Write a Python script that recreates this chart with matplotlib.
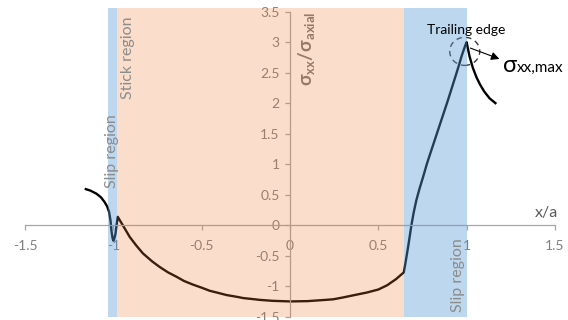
import matplotlib
matplotlib.use("Agg")
import matplotlib.pyplot as plt
from matplotlib.patches import Ellipse
import numpy as np

plt.rcParams['font.family'] = ['Lato', 'DejaVu Sans']
plt.rcParams['mathtext.default'] = 'regular'

# stress curve
lead_x = [-1.162, -1.13, -1.096, -1.07, -1.049, -1.035, -1.024, -1.016, -1.011,
          -1.005, -1.0, -0.995, -0.988, -0.982, -0.975]
lead_y = [0.60, 0.57, 0.52, 0.46, 0.38, 0.31, 0.22, 0.08, -0.08,
          -0.20, -0.25, -0.22, -0.14, 0.0, 0.14]

stick_x = [-0.95, -0.907, -0.87, -0.832, -0.78, -0.738, -0.69, -0.643, -0.6, -0.549,
           -0.5, -0.455, -0.4, -0.36, -0.3, -0.265, -0.2, -0.17, -0.1, 0.0,
           0.1, 0.2, 0.245, 0.3, 0.35, 0.4, 0.434, 0.5, 0.55, 0.6, 0.644]
stick_y = [0.02, -0.19, -0.33, -0.46, -0.59, -0.68, -0.77, -0.84, -0.91, -0.97,
           -1.02, -1.07, -1.11, -1.14, -1.17, -1.19, -1.21, -1.22, -1.235, -1.245,
           -1.24, -1.22, -1.21, -1.18, -1.15, -1.12, -1.10, -1.05, -0.98, -0.88, -0.77]

slip_x = [0.652, 0.659, 0.667, 0.674, 0.687, 0.70, 0.715, 0.733, 0.753, 0.775,
          0.80, 0.823, 0.847, 0.87, 0.894, 0.918, 0.942, 0.957, 0.97, 0.984, 0.994, 1.0]
slip_y = [-0.64, -0.52, -0.38, -0.25, 0.0, 0.21, 0.41, 0.60, 0.79, 1.01,
          1.23, 1.43, 1.64, 1.84, 2.05, 2.27, 2.49, 2.63, 2.76, 2.88, 2.96, 3.0]

trail_x = [1.008, 1.017, 1.035, 1.055, 1.075, 1.10, 1.13, 1.168]
trail_y = [2.88, 2.76, 2.58, 2.43, 2.31, 2.19, 2.08, 1.99]

# region limits in x/a
slip_left = (-1.03, -0.977)
stick = (-0.977, 0.644)
slip_right = (0.644, 1.004)

xticks = [-1.5, -1, -0.5, 0, 0.5, 1, 1.5]
yticks = [-1.5, -1, -0.5, 0, 0.5, 1, 1.5, 2, 2.5, 3, 3.5]

fig = plt.figure(figsize=(5.68, 3.2), dpi=100)
ax = fig.add_axes([25/568, 3/320, 530/568, 309/320])
ax.set_xlim(-1.5, 1.5)
ax.set_ylim(-1.5, 3.56)

x = lead_x + stick_x + slip_x + trail_x
y = lead_y + stick_y + slip_y + trail_y
ax.plot(x, y, color='black', lw=1.7, zorder=2, solid_capstyle='butt')

# axes through origin
grey = '#a6a6a6'
for s in ['top', 'right']:
    ax.spines[s].set_visible(False)
ax.spines['left'].set_position(('data', 0))
ax.spines['bottom'].set_position(('data', 0))
ax.spines['left'].set_bounds(-1.5, 3.5)
for s in ['left', 'bottom']:
    ax.spines[s].set_color(grey)
    ax.spines[s].set_linewidth(0.9)
ax.set_xticks(xticks)
ax.set_xticklabels(['-1.5', '-1', '-0.5', '0', '0.5', '1', '1.5'])
ax.set_yticks(yticks)
ax.set_yticklabels(['-1.5', '-1', '-0.5', '0', '0.5', '1', '1.5', '2', '2.5', '3', '3.5'])
ax.tick_params(axis='both', direction='out', length=3.5, width=0.9, color=grey,
               labelcolor='#808080', labelsize=10)
ax.tick_params(axis='x', pad=7)
ax.tick_params(axis='y', pad=4)
ax.patch.set_visible(False)

# y label sits under the shading
ax.text(0.095, 2.89, 'σ$_{xx}$/σ$_{axial}$', rotation=90, ha='center', va='center',
        fontsize=13.5, color='#7a7a7a', fontweight='bold', zorder=3)

# dashed circle round the trailing edge
ax.add_patch(Ellipse((0.989, 2.85), 0.17, 0.46, fill=False, ls=(0, (4, 3)),
                     lw=1.0, color='#3a3a3a', zorder=3))

# shaded regions on top (semi transparent like the original)
ax.axvspan(*slip_left, color='#5B9BD5', alpha=0.4, lw=0, zorder=5)
ax.axvspan(*stick, color='#ED7D31', alpha=0.25, lw=0, zorder=5)
ax.axvspan(*slip_right, color='#5B9BD5', alpha=0.4, lw=0, zorder=5)

lab = '#8c8c8c'
ax.text(-1.009, 1.22, 'Slip region', rotation=90, ha='center', va='center',
        fontsize=11.5, color=lab, zorder=6)
ax.text(-0.918, 2.75, 'Stick region', rotation=90, ha='center', va='center',
        fontsize=11.5, color=lab, zorder=6)
ax.text(0.949, -0.82, 'Slip region', rotation=90, ha='center', va='center',
        fontsize=11.5, color=lab, zorder=6)

ax.text(1.453, 0.2, 'x/a', ha='center', va='center', fontsize=11.5, color='#595959', zorder=6)
ax.text(0.775, 3.2, 'Trailing edge', ha='left', va='center', fontsize=10, color='black', zorder=6)

ax.annotate('', xy=(1.2, 2.71), xytext=(1.006, 2.92),
            arrowprops=dict(arrowstyle='-|>', color='black', lw=0.8, mutation_scale=12),
            zorder=6, annotation_clip=False)
ax.text(1.204, 2.51, 'σ', ha='left', va='baseline', fontsize=17, color='black', zorder=6)
ax.text(1.285, 2.51, 'xx,max', ha='left', va='baseline', fontsize=11, color='black',
        zorder=6, clip_on=False)

fig.savefig('out.png', dpi=100)
